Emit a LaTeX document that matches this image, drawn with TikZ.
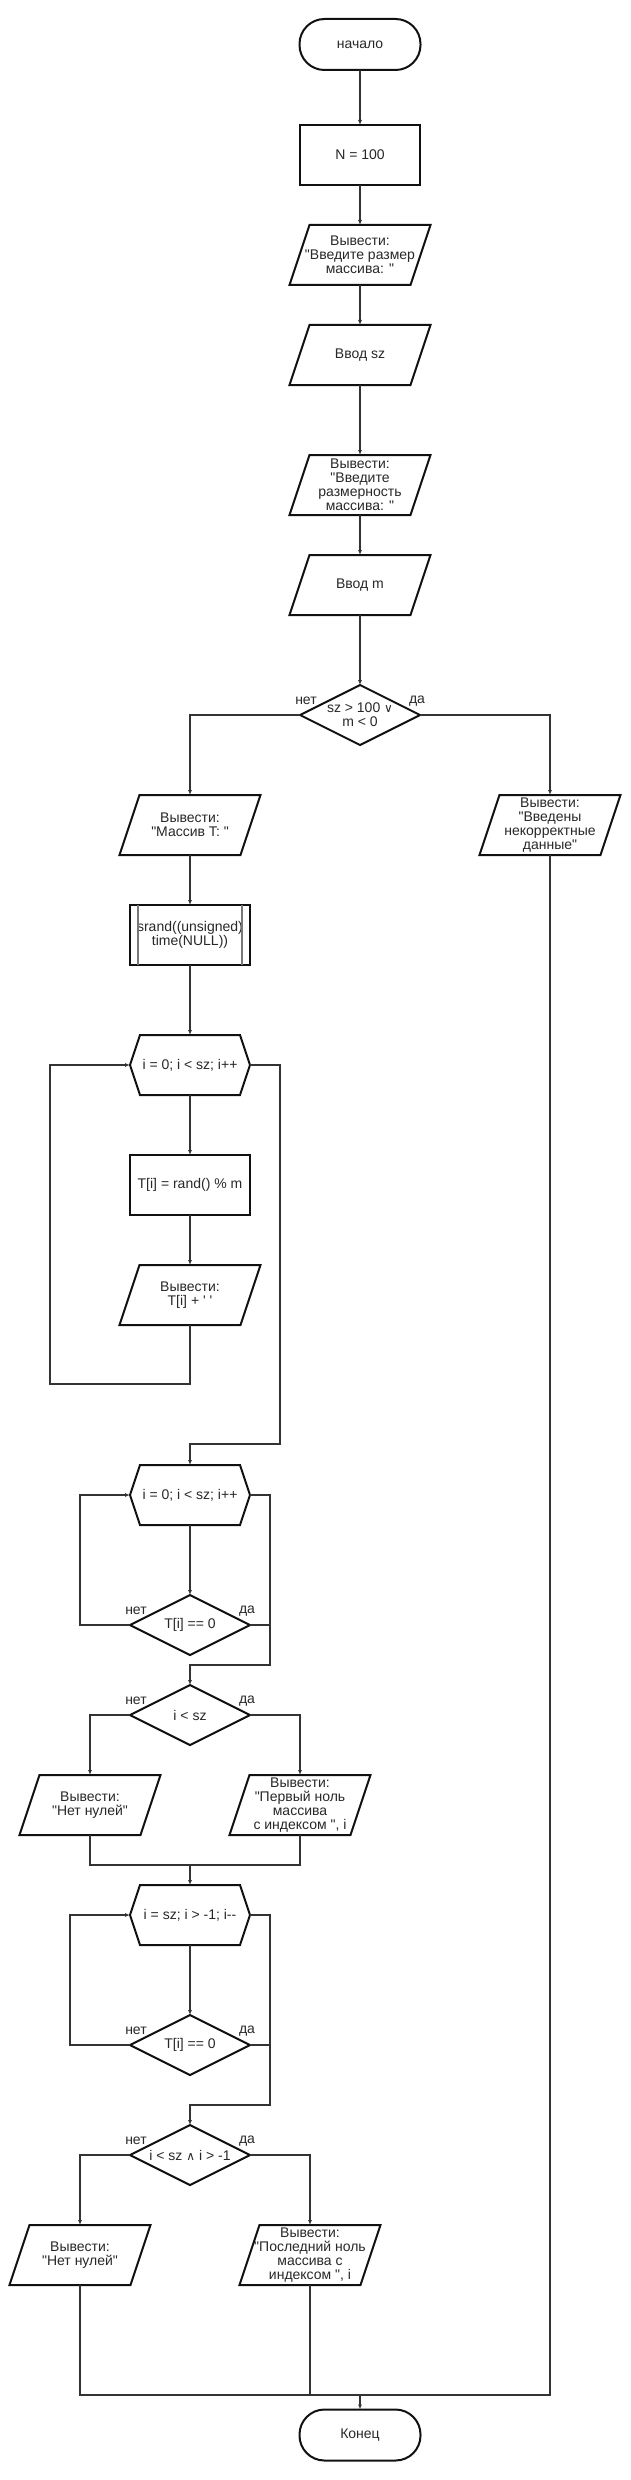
\documentclass[tikz,border=0pt]{standalone}
\usepackage{fontspec}
\newfontfamily\lf{Liberation Sans}
\newfontfamily\dv{DejaVu Sans}
\usetikzlibrary{arrows.meta,calc}
\definecolor{ink}{RGB}{17,17,17}
\definecolor{wirec}{RGB}{51,51,51}
\definecolor{txt}{RGB}{40,40,40}
\definecolor{subc}{RGB}{120,120,120}
\begin{document}
\begin{tikzpicture}[x=1pt,y=-1pt,
  every node/.style={inner sep=0pt, outer sep=0pt, align=center, text=txt, font=\lf\fontsize{14}{14}\selectfont},
  blk/.style={draw=none, minimum width=#1, minimum height=60pt},
  term/.style={draw=ink, line width=2pt, rounded corners=25pt, minimum width=121pt, minimum height=51pt},
  proc/.style={draw=ink, line width=2pt, minimum width=120pt, minimum height=60pt},
  shp/.style={draw=ink, line width=2pt, line join=miter},
  wire/.style={draw=wirec, line width=1.3pt},
  arr/.style={wire, -{Latex[length=5pt,width=4pt]}},
  lbl/.style={}
]
\fill[white] (0,0) rectangle (630,2480);
\useasboundingbox (0,0) rectangle (630,2480);

% nodes
\node[term] (st) at (360,44.5) {начало};
\node[proc] (n100) at (360,155) {N = 100};
\node[blk=141pt] (p1) at (360,255) {Вывести:\\"Введите размер\\массива: "};
\node[blk=141pt] (p2) at (360,355) {Ввод sz};
\node[blk=141pt] (p3) at (360,485) {Вывести:\\"Введите\\размерность\\массива: "};
\node[blk=141pt] (p4) at (360,585) {Ввод m};
\node[blk=120pt] (d1) at (360,715) {sz > 100 {\dv\fontsize{12}{14}\selectfont ∨}\\m < 0};
\node[blk=141pt] (p5) at (190,825) {Вывести:\\"Массив T: "};
\node[blk=141pt] (p6) at (550,825) {Вывести:\\"Введены\\некорректные\\данные"};
\node[proc] (sr) at (190,935) {srand((unsigned)\\time(NULL))};
\node[blk=120pt] (h1) at (190,1065) {i = 0; i < sz; i++};
\node[proc] (tr) at (190,1185) {T[i] = rand() \% m};
\node[blk=141pt] (p7) at (190,1295) {Вывести:\\T[i] + ' '};
\node[blk=120pt] (h2) at (190,1495) {i = 0; i < sz; i++};
\node[blk=120pt] (d2) at (190,1625) {T[i] == 0};
\node[blk=120pt] (d3) at (190,1715) {i < sz};
\node[blk=141pt] (p8) at (90,1805) {Вывести:\\"Нет нулей"};
\node[blk=141pt] (p9) at (300,1805) {Вывести:\\"Первый ноль\\массива\\с индексом ", i};
\node[blk=120pt] (h3) at (190,1915) {i = sz; i > -1; i--};
\node[blk=120pt] (d4) at (190,2045) {T[i] == 0};
\node[blk=120pt] (d5) at (190,2155) {i < sz {\dv\fontsize{12}{14}\selectfont ∧} i > -1};
\node[blk=141pt] (p10) at (80,2255) {Вывести:\\"Нет нулей"};
\node[blk=141pt] (p11) at (310,2255) {Вывести:\\"Последний ноль\\массива с\\индексом ", i};
\node[term] (en) at (360,2435) {Конец};

% shapes
\foreach \n in {p1,p2,p3,p4,p5,p6,p7,p8,p9,p10,p11}
  \draw[shp] ([xshift=20pt]\n.north west) -- (\n.north east) -- ([xshift=-20pt]\n.south east) -- (\n.south west) -- cycle;
\foreach \n in {h1,h2,h3}
  \draw[shp] ([xshift=10pt]\n.north west) -- ([xshift=-10pt]\n.north east) -- (\n.east) -- ([xshift=-10pt]\n.south east) -- ([xshift=10pt]\n.south west) -- (\n.west) -- cycle;
\foreach \n in {d1,d2,d3,d4,d5}
  \draw[shp] (\n.north) -- (\n.east) -- (\n.south) -- (\n.west) -- cycle;
\draw[draw=subc, line width=1.5pt] ([xshift=8pt]sr.north west) -- ([xshift=8pt]sr.south west);
\draw[draw=subc, line width=1.5pt] ([xshift=-8pt]sr.north east) -- ([xshift=-8pt]sr.south east);

% labels
\node[lbl] (y1n) at ([shift={(6,-14)}]d1.west) {нет};
\node[lbl] (y1y) at ([shift={(-3,-14)}]d1.east) {да};
\node[lbl] (y2n) at ([shift={(6,-14)}]d2.west) {нет};
\node[lbl] (y2y) at ([shift={(-3,-14)}]d2.east) {да};
\node[lbl] (y3n) at ([shift={(6,-14)}]d3.west) {нет};
\node[lbl] (y3y) at ([shift={(-3,-14)}]d3.east) {да};
\node[lbl] (y4n) at ([shift={(6,-14)}]d4.west) {нет};
\node[lbl] (y4y) at ([shift={(-3,-14)}]d4.east) {да};
\node[lbl] (y5n) at ([shift={(6,-14)}]d5.west) {нет};
\node[lbl] (y5y) at ([shift={(-3,-14)}]d5.east) {да};

% coordinates
\coordinate (l1) at (50,1384);
\coordinate (r1) at (280,1444);
\coordinate (l2) at (80,1625);
\coordinate (r2) at (270,1665);
\coordinate (m1) at (190,1865);
\coordinate (l3) at (70,2045);
\coordinate (r3) at (270,2105);
\coordinate (m2) at (360,2395);

% connectors
\draw[arr] (st.south) -- (n100.north);
\draw[arr] (n100.south) -- (p1.north);
\draw[arr] (p1.south) -- (p2.north);
\draw[arr] (p2.south) -- (p3.north);
\draw[arr] (p3.south) -- (p4.north);
\draw[arr] (p4.south) -- (d1.north);
\draw[arr] (d1.west) -| (p5.north);
\draw[arr] (d1.east) -| (p6.north);
\draw[arr] (p5.south) -- (sr.north);
\draw[arr] (sr.south) -- (h1.north);
\draw[arr] (h1.south) -- (tr.north);
\draw[arr] (tr.south) -- (p7.north);
\draw[arr] (p7.south) |- (l1) |- (h1.west);
\draw[arr] (h1.east) -| (r1) -| (h2.north);
\draw[arr] (h2.south) -- (d2.north);
\draw[arr] (d2.west) -- (l2) |- (h2.west);
\draw[arr] (h2.east) -| (r2) -| (d3.north);
\draw[wire] (d2.east) -- (d2.east -| r2);
\draw[arr] (d3.west) -| (p8.north);
\draw[arr] (d3.east) -| (p9.north);
\draw[wire] (p8.south) |- (m1);
\draw[wire] (p9.south) |- (m1);
\draw[arr] (m1) -- (h3.north);
\draw[arr] (h3.south) -- (d4.north);
\draw[arr] (d4.west) -- (l3) |- (h3.west);
\draw[arr] (h3.east) -| (r3) -| (d5.north);
\draw[wire] (d4.east) -- (d4.east -| r3);
\draw[arr] (d5.west) -| (p10.north);
\draw[arr] (d5.east) -| (p11.north);
\draw[wire] (p10.south) |- (m2);
\draw[wire] (p11.south) |- (m2);
\draw[wire] (p6.south) |- (m2);
\draw[arr] (m2) -- (en.north);
\end{tikzpicture}
\end{document}
